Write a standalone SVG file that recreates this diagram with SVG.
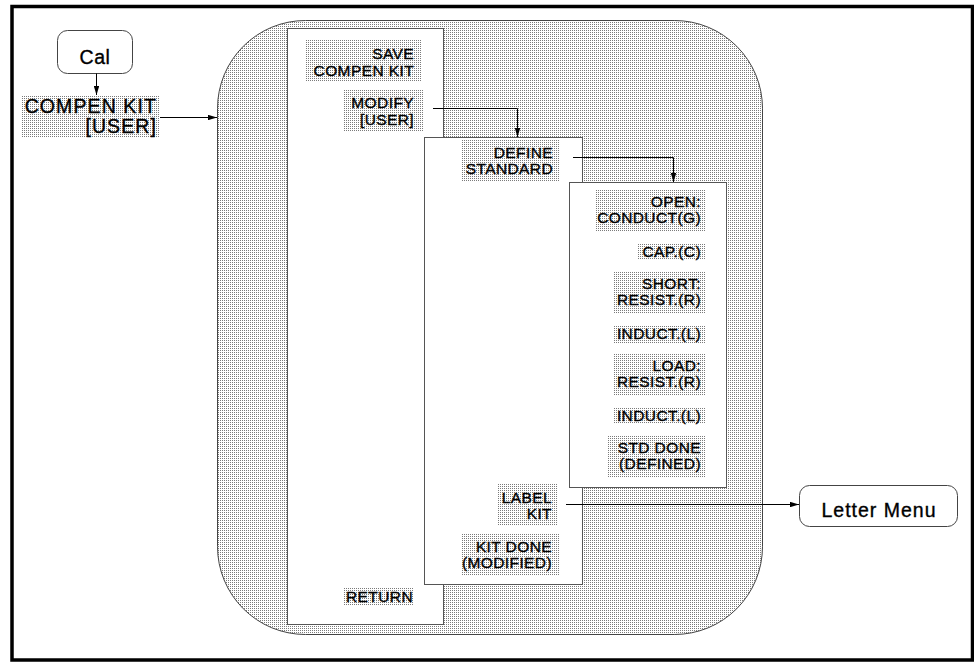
<svg xmlns="http://www.w3.org/2000/svg" width="974" height="662" viewBox="0 0 974 662">
<defs>
<pattern id="dots" width="2" height="2" patternUnits="userSpaceOnUse">
<rect width="2" height="2" fill="#ffffff"/>
<rect x="0" y="0" width="1" height="1" fill="#7a7a7a"/>
</pattern>
<marker id="arr" viewBox="0 0 10 6" refX="10" refY="3" markerWidth="9" markerHeight="5.4" markerUnits="userSpaceOnUse" orient="auto">
<path d="M0,0 L10,3 L0,6 Z" fill="#000"/>
</marker>
</defs>
<style>
.frame{fill:#fff;stroke:#000;stroke-width:3.5}
.panel{fill:url(#dots);stroke:#444;stroke-width:1}
.col{fill:#fff;stroke:#555;stroke-width:1}
.hl{fill:url(#dots)}
.term{fill:#fff;stroke:#444;stroke-width:1}
text{font-family:"Liberation Sans",Arial,sans-serif;fill:#000;stroke:#000;stroke-width:0.35px}
.k{font-size:15.5px;letter-spacing:0.4px;text-anchor:end}
.big{font-size:19.5px;letter-spacing:1.1px;text-anchor:end}
.t{font-size:19.5px;letter-spacing:1px;text-anchor:middle}
.c{fill:none;stroke:#000;stroke-width:1;marker-end:url(#arr)}
</style>
<rect class="frame" x="12" y="6.5" width="960.5" height="653.5"/>

<g id="cal">
<rect class="term" x="57.5" y="30.5" width="75" height="43" rx="10"/>
<text class="t" x="95" y="64" style="letter-spacing:0.5px">Cal</text>
</g>

<g id="compen-kit">
<rect class="hl" x="22" y="95" width="138" height="42"/>
<text class="big" x="157" y="113">COMPEN KIT</text>
<text class="big" x="157" y="133">[USER]</text>
</g>

<g id="menu-panel">
<rect class="panel" x="217.5" y="20.5" width="545" height="614" rx="88"/>
</g>

<g id="column-1">
<rect class="col" x="287.5" y="28.5" width="156" height="596"/>
<g id="save-compen-kit">
<rect class="hl" x="305" y="39" width="117" height="43"/>
<text class="k" x="414" y="59">SAVE</text>
<text class="k" x="414" y="76">COMPEN KIT</text>
</g>
<g id="modify-user">
<rect class="hl" x="344" y="89" width="79" height="43"/>
<text class="k" x="414" y="108">MODIFY</text>
<text class="k" x="414" y="125">[USER]</text>
</g>
<g id="return">
<rect class="hl" x="344" y="587" width="69" height="19"/>
<text class="k" x="413" y="602">RETURN</text>
</g>
</g>

<g id="column-2">
<rect class="col" x="424.5" y="137.5" width="158" height="447"/>
<g id="define-standard">
<rect class="hl" x="462" y="139" width="97" height="43"/>
<text class="k" x="553" y="158">DEFINE</text>
<text class="k" x="553" y="174">STANDARD</text>
</g>
<g id="label-kit">
<rect class="hl" x="497" y="483" width="61" height="43"/>
<text class="k" x="552" y="503">LABEL</text>
<text class="k" x="552" y="519">KIT</text>
</g>
<g id="kit-done">
<rect class="hl" x="462" y="533" width="97" height="43"/>
<text class="k" x="552" y="552">KIT DONE</text>
<text class="k" x="552" y="568">(MODIFIED)</text>
</g>
</g>

<g id="column-3">
<rect class="col" x="569.5" y="182.5" width="157" height="305"/>
<g id="open-conduct">
<rect class="hl" x="595" y="189" width="111" height="43"/>
<text class="k" x="701" y="207">OPEN:</text>
<text class="k" x="701" y="223">CONDUCT(G)</text>
</g>
<g id="open-cap">
<rect class="hl" x="638" y="244" width="68" height="16"/>
<text class="k" x="701" y="257">CAP.(C)</text>
</g>
<g id="short-resist">
<rect class="hl" x="614" y="272" width="92" height="42"/>
<text class="k" x="701" y="289">SHORT:</text>
<text class="k" x="701" y="305">RESIST.(R)</text>
</g>
<g id="short-induct">
<rect class="hl" x="613" y="326" width="93" height="17"/>
<text class="k" x="701" y="339">INDUCT.(L)</text>
</g>
<g id="load-resist">
<rect class="hl" x="614" y="353" width="92" height="42"/>
<text class="k" x="701" y="371">LOAD:</text>
<text class="k" x="701" y="387">RESIST.(R)</text>
</g>
<g id="load-induct">
<rect class="hl" x="613" y="407" width="93" height="17"/>
<text class="k" x="701" y="421">INDUCT.(L)</text>
</g>
<g id="std-done">
<rect class="hl" x="607" y="435" width="99" height="42"/>
<text class="k" x="701" y="453">STD DONE</text>
<text class="k" x="701" y="469">(DEFINED)</text>
</g>
</g>

<g id="letter-menu">
<rect class="term" x="799.5" y="485.5" width="158" height="41" rx="10"/>
<text class="t" x="879" y="517">Letter Menu</text>
</g>

<g id="connectors">
<path class="c" d="M96.5,73.5 V95"/>
<path class="c" d="M160,117.5 H217"/>
<path class="c" d="M433,108.5 H517.5 V137"/>
<path class="c" d="M573,157.5 H673.5 V182"/>
<path class="c" d="M566,504.5 H799"/>
</g>
</svg>
